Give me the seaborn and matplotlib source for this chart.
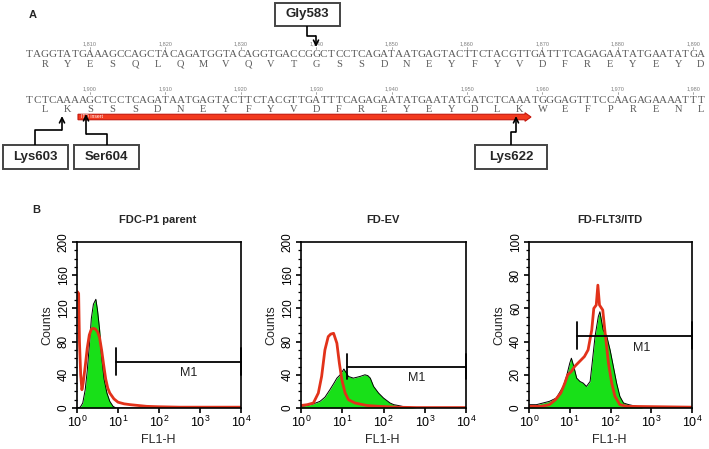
import numpy as np
import matplotlib
matplotlib.use("Agg")
import matplotlib.pyplot as plt
from matplotlib.patches import Rectangle, FancyArrow
from matplotlib.ticker import LogLocator, AutoMinorLocator, NullFormatter
import seaborn as sns

# ---- panel A: sequence data ----
dna_row1 = "TAGGTATGAAAGCCAGCTACAGATGGTACAGGTGACCGGCTCCTCAGATAATGAGTACTTCTACGTTGATTTCAGAGAATATGAATATGA"
aa_row1 = "RYESQLQMVQVTGSSDNEYFYVDFREYEYD"
num_row1 = [1810, 1820, 1830, 1840, 1850, 1860, 1870, 1880, 1890]

dna_row2 = "TCTCAAAAGCTCCTCAGATAATGAGTACTTCTACGTTGATTTCAGAGAATATGAATATGATCTCAAATGGGAGTTTCCAAGAGAAAATTT"
aa_row2 = "LKSSSDNEYFYVDFREYEYDLKWEFPRENL"
num_row2 = [1900, 1910, 1920, 1930, 1940, 1950, 1960, 1970, 1980]

# ---- panel B: histogram data (log10 FL1-H, counts) ----
titles = ["FDC-P1 parent", "FD-EV", "FD-FLT3/ITD"]
y_max = [200, 200, 100]
y_step = [40, 40, 20]

green_log_1 = [0.0, 0.08, 0.14, 0.2, 0.25, 0.3, 0.35, 0.4, 0.46, 0.5, 0.55, 0.6, 0.66, 0.73, 0.8, 0.88, 0.95, 4.0]
green_cnt_1 = [0, 1, 6, 22, 45, 75, 108, 125, 131, 118, 95, 62, 35, 18, 8, 2, 0, 0]
red_log_1 = [0.0, 0.01, 0.04, 0.06, 0.09, 0.12, 0.15, 0.2, 0.25, 0.3, 0.35, 0.4, 0.45, 0.5, 0.55,
             0.6, 0.65, 0.7, 0.75, 0.8, 0.9, 1.0, 1.15, 1.3, 1.5, 1.7, 2.0, 2.5, 3.0, 4.0]
red_cnt_1 = [140, 140, 138, 80, 40, 22, 30, 50, 72, 88, 95, 96, 95, 92, 85,
             70, 52, 35, 24, 18, 11, 7, 5, 4, 3, 2, 1.5, 1, 1, 1]

green_log_2 = [0.0, 0.15, 0.3, 0.46, 0.58, 0.7, 0.8, 0.87, 0.95, 1.04, 1.1, 1.15, 1.27, 1.35, 1.43,
               1.55, 1.62, 1.68, 1.76, 1.88, 2.0, 2.16, 2.25, 2.36, 2.5, 2.65, 2.8, 4.0]
green_cnt_2 = [2, 3, 5, 8, 13, 22, 30, 36, 40, 47, 42, 38, 36, 37, 38,
               40, 39, 36, 26, 18, 12, 6, 4, 3, 1.5, 0.8, 0, 0]
red_log_2 = [0.0, 0.15, 0.3, 0.42, 0.5, 0.58, 0.66, 0.72, 0.79, 0.87, 0.93, 0.99, 1.07, 1.15,
             1.31, 1.6, 1.9, 2.3, 2.8, 4.0]
red_cnt_2 = [3, 4, 6, 18, 38, 70, 86, 89, 90, 78, 54, 34, 18, 10,
             6, 3, 2, 1, 0.5, 0.5]

green_log_3 = [0.0, 0.18, 0.34, 0.5, 0.67, 0.84, 0.92, 1.0, 1.04, 1.1, 1.17, 1.25, 1.33, 1.41, 1.5,
               1.55, 1.62, 1.7, 1.74, 1.82, 1.91, 1.99, 2.07, 2.15, 2.23, 2.32, 2.45, 2.64, 2.8, 4.0]
green_cnt_3 = [2, 2, 3, 4, 6, 13, 19, 27, 30, 25, 18, 16, 15, 13, 16,
               27, 43, 55, 58, 47, 43, 35, 25, 15, 7, 3, 2, 1, 0, 0]
red_log_3 = [0.0, 0.3, 0.5, 0.65, 0.78, 0.88, 0.95, 1.04, 1.12, 1.2, 1.28, 1.36, 1.45, 1.54,
             1.59, 1.65, 1.69, 1.73, 1.81, 1.86, 1.95, 2.03, 2.11, 2.23, 2.4, 4.0]
red_cnt_3 = [1, 1, 2, 5, 9, 15, 20, 22, 25, 27, 29, 31, 35, 47,
             60, 62, 74, 62, 59, 47, 27, 15, 7, 2, 1, 0.5]

green_logs = [green_log_1, green_log_2, green_log_3]
green_cnts = [green_cnt_1, green_cnt_2, green_cnt_3]
red_logs = [red_log_1, red_log_2, red_log_3]
red_cnts = [red_cnt_1, red_cnt_2, red_cnt_3]

# M1 gates: start (log10), level, half-height of end bars, label position
gate_start = [0.96, 1.11, 1.17]
gate_level = [56, 50, 43.6]
gate_half = [16, 15, 8]
m1_pos = [(2.72, 42), (2.81, 36), (2.77, 36)]

GREEN = "#18e018"
RED = "#e2321a"

sns.set_theme(style="ticks")
plt.rcParams["font.family"] = ["Liberation Sans", "DejaVu Sans"]
plt.rcParams["mathtext.default"] = "regular"

W, H = 709, 449
fig = plt.figure(figsize=(W / 100, H / 100), dpi=100)
fig.patch.set_facecolor("white")

canvas = fig.add_axes([0, 0, 1, 1])
canvas.set_xlim(0, W)
canvas.set_ylim(H, 0)
canvas.axis("off")

# ---------------- panel A ----------------
X0, CW = 25.9, 7.54
SEQ_GREY = "#5a5a5a"


def col_x(i):
    return X0 + CW * (i + 0.5)


def draw_row(dna, aa, nums, y_num, y_dna, y_aa):
    for i, ch in enumerate(dna):
        canvas.text(col_x(i), y_dna, ch, ha="center", va="center",
                    family="Liberation Serif", size=8, color=SEQ_GREY)
    for k, ch in enumerate(aa):
        canvas.text(col_x(2 + 3 * k), y_aa, ch, ha="center", va="center",
                    family="Liberation Serif", size=7.5, color=SEQ_GREY)
    for k, n in enumerate(nums):
        x = col_x(8 + 10 * k)
        canvas.text(x, y_num - 0.5, f"{n:,}", ha="center", va="bottom",
                    size=4, color="#808080")
        canvas.plot([x, x], [y_num - 0.3, y_num + 2.2], color="#808080", lw=0.5)


canvas.text(33, 15, "A", weight="bold", size=8, ha="center", va="center")
draw_row(dna_row1, aa_row1, num_row1, 47, 54.5, 64.5)
draw_row(dna_row2, aa_row2, num_row2, 92, 100.5, 109)

canvas.add_patch(FancyArrow(78, 117, 453, 0, width=5.5, head_width=8.5, head_length=6,
                            length_includes_head=True, fc="#f23a1e", ec="#c4160c", lw=0.8))
canvas.text(81, 117, "ITD insert", color="white", size=3.6, ha="left", va="center")


def label_box(x0, y0, x1, y1, text, path):
    canvas.add_patch(Rectangle((x0, y0), x1 - x0, y1 - y0, fc="white", ec="#444444", lw=1.4))
    canvas.text((x0 + x1) / 2, (y0 + y1) / 2, text, ha="center", va="center",
                weight="bold", size=9.5)
    xs, ys = zip(*path)
    canvas.plot(xs[:-1], ys[:-1], color="black", lw=1.2, solid_capstyle="butt")
    canvas.annotate("", xy=path[-1], xytext=path[-2],
                    arrowprops=dict(arrowstyle="->", lw=1.2, color="black",
                                    shrinkA=0, shrinkB=0, mutation_scale=9))


label_box(275, 3, 340, 26, "Gly583", [(307, 26), (307, 36), (316, 36), (316, 47)])
label_box(3, 145, 68, 169, "Lys603", [(35, 145), (35, 130), (62, 130), (62, 116)])
label_box(74, 145, 139, 169, "Ser604", [(107, 145), (107, 134), (86, 134), (86, 114)])
label_box(475, 145, 547, 169, "Lys622", [(511, 145), (511, 132), (516, 132), (516, 116)])

# ---------------- panel B ----------------
canvas.text(36, 210, "B", weight="bold", size=8, ha="center", va="center")

boxes = [(77, 242, 241, 408), (301, 242, 466, 408), (529, 242, 692, 408)]

for p in range(3):
    l, t, r, b = boxes[p]
    ax = fig.add_axes([l / W, 1 - b / H, (r - l) / W, (b - t) / H])
    ax.set_facecolor("white")

    gx = 10 ** np.array(green_logs[p])
    ax.fill_between(gx, green_cnts[p], color=GREEN, lw=0)
    sns.lineplot(x=gx, y=green_cnts[p], ax=ax, color="black", linewidth=0.7,
                 sort=False, estimator=None)
    sns.lineplot(x=10 ** np.array(red_logs[p]), y=red_cnts[p], ax=ax, color=RED,
                 linewidth=2, sort=False, estimator=None)

    g0 = 10 ** gate_start[p]
    lvl, hh = gate_level[p], gate_half[p]
    ax.plot([g0, 1e4], [lvl, lvl], color="black", lw=1.3, clip_on=False)
    for gx_end in (g0, 1e4):
        ax.plot([gx_end, gx_end], [lvl - hh, lvl + hh], color="black", lw=1.3, clip_on=False)
    ax.text(10 ** m1_pos[p][0], m1_pos[p][1], "M1", ha="center", va="center",
            size=9, color="#222222")

    ax.set_xscale("log")
    ax.set_xlim(1, 1e4)
    ax.set_ylim(0, y_max[p])
    ax.set_xticks([1, 10, 100, 1000, 10000])
    ax.set_xticklabels([r"$10^{0}$", r"$10^{1}$", r"$10^{2}$", r"$10^{3}$", r"$10^{4}$"])
    ax.xaxis.set_minor_locator(LogLocator(base=10, subs=np.arange(2, 10)))
    ax.xaxis.set_minor_formatter(NullFormatter())
    ax.set_yticks(range(0, y_max[p] + 1, y_step[p]))
    ax.yaxis.set_minor_locator(AutoMinorLocator(4))
    ax.tick_params(axis="both", which="major", direction="out", length=3.6, width=1.2,
                   color="black", labelcolor="black", pad=1.5)
    ax.tick_params(axis="both", which="minor", direction="out", length=2.2, width=0.9,
                   color="black")
    ax.tick_params(axis="x", labelsize=9)
    ax.tick_params(axis="y", labelsize=8.5, labelrotation=90)
    for lab in ax.get_yticklabels():
        lab.set_va("center")
    ax.set_xlabel("")
    ax.set_ylabel("")
    for sp in ax.spines.values():
        sp.set_visible(True)
        sp.set_linewidth(1.2)
        sp.set_color("black")

    cx = (l + r) / 2
    canvas.text(cx - 1, 220, titles[p], ha="center", va="center", weight="bold", size=8)
    canvas.text(cx - 1, 440, "FL1-H", ha="center", va="center", size=9)
    canvas.text(l - 30, (t + b) / 2, "Counts", ha="center", va="center",
                rotation=90, size=9)

fig.savefig("out.png", dpi=100, facecolor="white")
